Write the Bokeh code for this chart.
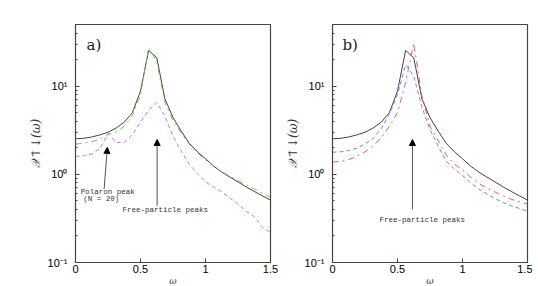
from bokeh.plotting import figure
from bokeh.layouts import row
from bokeh.models import FixedTicker, Label, Arrow, NormalHead, Range1d
from bokeh.embed import file_html
from bokeh.resources import INLINE

omega = [0.0, 0.0625, 0.125, 0.1875, 0.25, 0.3125, 0.375, 0.4375, 0.5, 0.5625, 0.625, 0.6875,
         0.75, 0.8125, 0.875, 0.9375, 1.0, 1.0625, 1.125, 1.1875, 1.25, 1.3125, 1.375, 1.4375, 1.5]

chi_free = [2.53, 2.56, 2.65, 2.8, 3.0, 3.35, 3.9, 5.0, 8.8, 25.4, 21.0, 7.2,
            4.4, 3.1, 2.25, 1.8, 1.5, 1.24, 1.06, 0.93, 0.82, 0.72, 0.64, 0.57, 0.51]
chi_green = [2.2, 2.25, 2.35, 2.5, 2.85, 3.0, 3.5, 4.6, 8.0, 27.5, 19.0, 6.5,
             4.1, 2.95, 2.2, 1.75, 1.45, 1.23, 1.07, 0.95, 0.85, 0.76, 0.68, 0.61, 0.55]
chi_purple = [1.6, 1.62, 1.7, 1.95, 2.9, 2.3, 2.3, 2.8, 3.9, 5.3, 6.5, 4.6,
              2.7, 1.85, 1.3, 1.02, 0.82, 0.72, 0.63, 0.54, 0.46, 0.38, 0.33, 0.25, 0.22]
chi_blue = [1.78, 1.8, 1.86, 1.98, 2.2, 2.55, 3.3, 4.8, 8.0, 17.5, 13.0, 5.8,
            3.2, 2.1, 1.4, 1.15, 0.97, 0.8, 0.68, 0.6, 0.53, 0.48, 0.44, 0.41, 0.38]
chi_red = [1.38, 1.4, 1.47, 1.6, 1.8, 2.1, 2.6, 3.5, 5.0, 11.0, 30.8, 7.7,
           3.5, 2.4, 1.65, 1.3, 1.12, 0.93, 0.79, 0.7, 0.63, 0.57, 0.52, 0.49, 0.46]

x_ticks = [0, 0.5, 1, 1.5]
x_tick_labels = {0: "0", 0.5: "0.5", 1: "1", 1.5: "1.5"}
y_ticks = [0.1, 1, 10]
y_tick_labels = {0.1: "10\u207b\u00b9", 1: "10\u2070", 10: "10\u00b9"}
y_minor = [0.2, 0.3, 0.4, 0.5, 0.6, 0.7, 0.8, 0.9, 2, 3, 4, 5, 6, 7, 8, 9, 20, 30, 40]

GRAY = "#444444"
TXT = "#333333"


def make_fig(border_left, border_right, letter, letter_x):
    p = figure(frame_width=195, frame_height=238, y_axis_type="log", output_backend="svg",
               toolbar_location=None, x_range=Range1d(0, 1.5), y_range=Range1d(0.1, 50),
               min_border_left=border_left, min_border_right=border_right,
               min_border_top=24, min_border_bottom=22)
    p.grid.visible = False
    p.outline_line_color = GRAY
    p.outline_line_width = 1.2
    p.background_fill_color = "white"
    p.border_fill_color = "white"
    p.xaxis.ticker = FixedTicker(ticks=x_ticks)
    p.xaxis.major_label_overrides = x_tick_labels
    p.yaxis.ticker = FixedTicker(ticks=y_ticks, minor_ticks=y_minor)
    p.yaxis.major_label_overrides = y_tick_labels
    for ax in (p.xaxis[0], p.yaxis[0]):
        ax.axis_line_color = GRAY
        ax.major_tick_in = 4
        ax.major_tick_out = 0
        ax.minor_tick_in = 2
        ax.minor_tick_out = 0
        ax.major_tick_line_color = GRAY
        ax.minor_tick_line_color = GRAY
        ax.major_label_text_font = "Liberation Sans"
        ax.major_label_text_font_size = "11px"
        ax.major_label_text_color = "black"
    p.xaxis.major_label_standoff = 2
    p.xaxis.axis_label = "ω"
    p.xaxis.axis_label_text_font = "DejaVu Serif"
    p.xaxis.axis_label_text_font_style = "italic"
    p.xaxis.axis_label_text_color = TXT
    p.xaxis.axis_label_text_font_size = "9px"
    p.xaxis.axis_label_standoff = 0
    p.yaxis.major_label_standoff = 8
    p.yaxis.axis_label = "𝒳↑↓(ω)"
    p.yaxis.axis_label_text_font = "DejaVu Serif"
    p.yaxis.axis_label_text_font_style = "italic"
    p.yaxis.axis_label_text_color = TXT
    p.yaxis.axis_label_text_font_size = "12px"
    p.yaxis.axis_label_standoff = 2
    p.add_layout(Label(x=letter_x, y=29.6, text=letter, text_font="DejaVu Serif",
                       text_font_size="15px", text_color="#222222", text_baseline="middle"))
    return p


def arrow(p, x0, y0, x1, y1):
    p.add_layout(Arrow(end=NormalHead(size=6, fill_color="black", line_color="black"),
                       x_start=x0, y_start=y0, x_end=x1, y_end=y1,
                       line_color="#555555", line_width=1))


def note(p, x, y, text, align="left"):
    p.add_layout(Label(x=x, y=y, text=text, text_font="Liberation Mono",
                       text_font_size="7.5px", text_color=TXT, text_baseline="middle",
                       text_align=align))


p1 = make_fig(75, 12, "a)", 0.085)
p1.line(omega, chi_free, line_color=GRAY, line_width=1)
p1.line(omega, chi_green, line_color="#66cc44", line_width=1, line_dash="dashdot")
p1.line(omega, chi_purple, line_color="#bb77ff", line_width=1, line_dash="4 3")
arrow(p1, 0.22, 0.68, 0.245, 2.02)
arrow(p1, 0.628, 0.44, 0.628, 2.48)
note(p1, 0.04, 0.625, "Polaron peak")
note(p1, 0.06, 0.52, "(N = 20)")
note(p1, 0.69, 0.39, "Free-particle peaks", "center")

p2 = make_fig(49, 5, "b)", 0.077)
p2.line(omega, chi_free, line_color=GRAY, line_width=1)
p2.line(omega, chi_blue, line_color="#6688ff", line_width=1, line_dash="4 3")
p2.line(omega, chi_red, line_color="#ff5555", line_width=1, line_dash="dashdot")
arrow(p2, 0.615, 0.40, 0.615, 2.48)
note(p2, 0.69, 0.30, "Free-particle peaks", "center")

layout = row(p1, p2)
open("out.html", "w").write(file_html(layout, INLINE))
